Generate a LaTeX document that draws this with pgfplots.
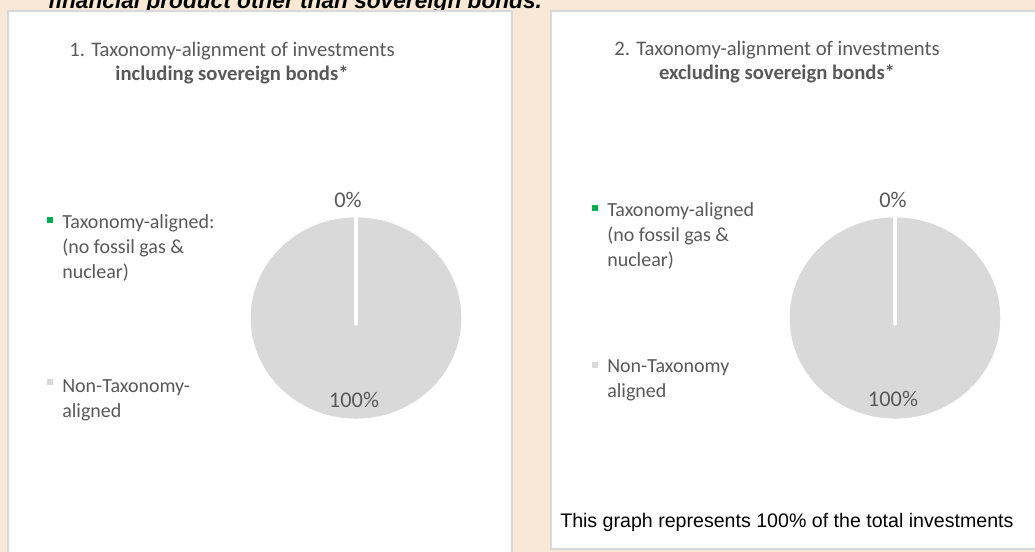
\documentclass[border=0pt]{standalone}
\usepackage{pgfplots}
\pgfplotsset{compat=1.18}
\usepackage{fontspec}
\setmainfont{Carlito}
\newfontfamily\arialf{Liberation Sans}
\definecolor{bgbeige}{HTML}{F8E9D6}
\definecolor{panelborder}{HTML}{D9D9D9}
\definecolor{piegray}{HTML}{D9D9D9}
\definecolor{txtgray}{HTML}{595959}
\definecolor{taxgreen}{HTML}{00B050}
\definecolor{legray}{HTML}{D9D9D9}
% pie data: Taxonomy-aligned 0, Non-Taxonomy-aligned 100 (both charts)
\newcommand{\pieaxis}{%
\begin{axis}[at={(0,0)}, anchor=center, hide axis, clip=false, clip marker paths=true,
  x=78.75pt, y=75.2pt, xmin=-1.2, xmax=1.2, ymin=-1.2, ymax=1.2]
  % Non-Taxonomy-aligned: 100% -> full disc
  \addplot[only marks, mark=*, color=piegray, mark size=78.75pt,
    mark options={yscale=0.955}] coordinates {(0,0)};
  % Taxonomy-aligned: 0% -> slice border at 90 degrees
  \addplot[white, line width=2.6pt, line cap=round] coordinates {(0,-0.06) (0,1.01)};
\end{axis}}
\begin{document}
\begin{tikzpicture}[x=0.75pt, y=0.75pt]
\path[use as bounding box] (0,0) rectangle (1035,552);
\clip (0,0) rectangle (1035,552);
\fill[bgbeige] (0,0) rectangle (1035,552);
\node[anchor=base west, inner sep=0pt, font=\arialf\bfseries\itshape\fontsize{17}{20}\selectfont]
  at (48,543) {financial product other than sovereign bonds.};
% panels
\filldraw[fill=white, draw=panelborder, line width=1.5pt] (8,-10) rectangle (512,541);
\filldraw[fill=white, draw=panelborder, line width=1.5pt] (551,3) rectangle (1045,541);
% pies
\begin{scope}[shift={(356,234)}]
\pieaxis
\end{scope}
\begin{scope}[shift={(895,234)}]
\pieaxis
\end{scope}
% titles
\begin{scope}[every node/.style={inner sep=0pt, text=txtgray, font=\fontsize{15.5}{18}\selectfont}]
\node[anchor=base] at (232,495) {1. Taxonomy-alignment of investments};
\node[anchor=base] at (232,471) {\bfseries including sovereign bonds*};
\node[anchor=base] at (777,496) {2. Taxonomy-alignment of investments};
\node[anchor=base] at (777,472) {\bfseries excluding sovereign bonds*};
\end{scope}
\begin{scope}[every node/.style={inner sep=0pt, text=txtgray, font=\fontsize{15}{18}\selectfont}]
% legend 1
\fill[taxgreen] (47,329) rectangle (53,335);
\node[anchor=base west] at (62,323) {Taxonomy-aligned:};
\node[anchor=base west] at (62,298) {(no fossil gas \&};
\node[anchor=base west] at (62,273) {nuclear)};
\fill[legray] (47,167) rectangle (53,173);
\node[anchor=base west] at (62,159) {Non-Taxonomy-};
\node[anchor=base west] at (62,134) {aligned};
% legend 2
\fill[taxgreen] (592,341) rectangle (598,347);
\node[anchor=base west] at (607,335) {Taxonomy-aligned};
\node[anchor=base west] at (607,310) {(no fossil gas \&};
\node[anchor=base west] at (607,285) {nuclear)};
\fill[legray] (592,184) rectangle (598,190);
\node[anchor=base west] at (607,179) {Non-Taxonomy};
\node[anchor=base west] at (607,154) {aligned};
\end{scope}
% pie labels
\begin{scope}[every node/.style={inner sep=0pt, text=txtgray, font=\fontsize{16.8}{20}\selectfont}]
\node at (348,352) {0\%};
\node at (354,152) {100\%};
\node at (893,352) {0\%};
\node at (893,153) {100\%};
\end{scope}
\node[anchor=base west, inner sep=0pt, font=\arialf\fontsize{14.7}{17}\selectfont]
  at (560,24) {This graph represents 100\% of the total investments};
\end{tikzpicture}
\end{document}
